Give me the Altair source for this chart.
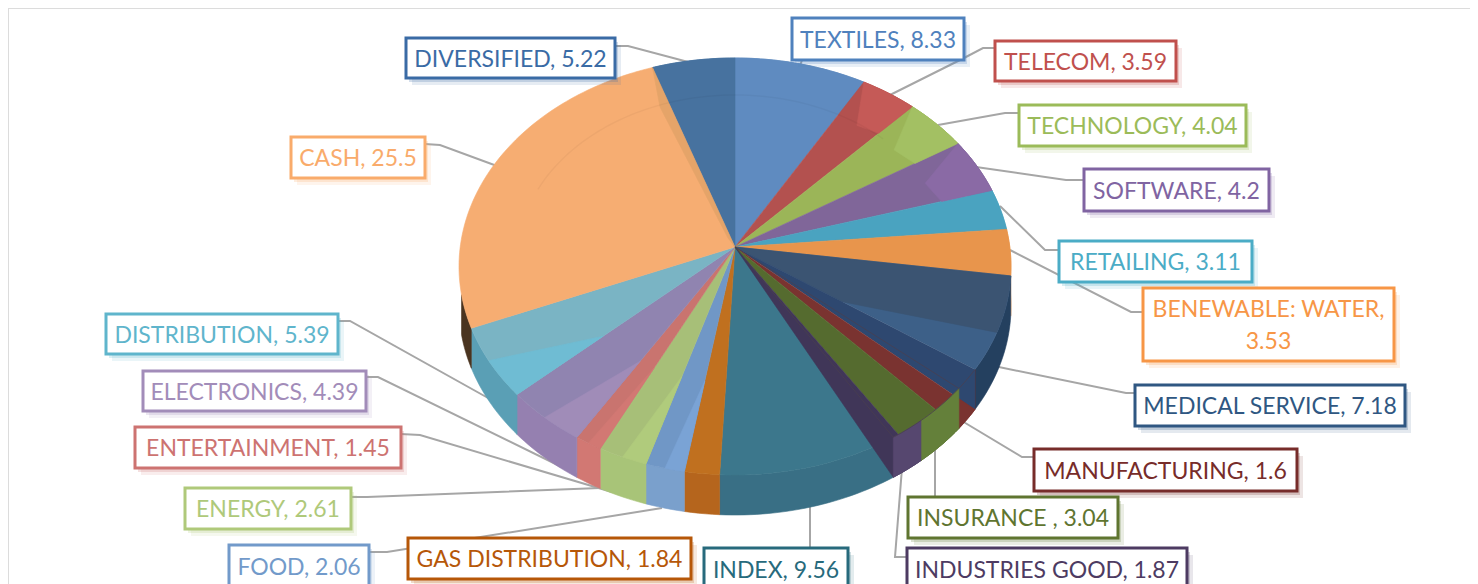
import math
import altair as alt
import pandas as pd

names = ["TEXTILES", "TELECOM", "TECHNOLOGY", "SOFTWARE", "RETAILING", "BENEWABLE: WATER",
         "MEDICAL SERVICE", "MANUFACTURING", "INSURANCE ", "INDUSTRIES GOOD", "INDEX",
         "GAS DISTRIBUTION", "FOOD", "ENERGY", "ENTERTAINMENT", "ELECTRONICS",
         "DISTRIBUTION", "CASH", "DIVERSIFIED"]
values = [8.33, 3.59, 4.04, 4.2, 3.11, 3.53, 7.18, 1.6, 3.04, 1.87, 9.56, 1.84, 2.06, 2.61,
          1.45, 4.39, 5.39, 25.5, 5.22]
value_text = ["8.33", "3.59", "4.04", "4.2", "3.11", "3.53", "7.18", "1.6", "3.04", "1.87", "9.56",
              "1.84", "2.06", "2.61", "1.45", "4.39", "5.39", "25.5", "5.22"]
top_colors = ["#5f8bc0", "#b3514f", "#9bb558", "#806699", "#4aa3c0", "#e8954c", "#3d6088", "#7a3330",
              "#556b2f", "#403658", "#3c778c", "#c0701f", "#7097c6", "#a7bf78", "#c9746f", "#9084b0",
              "#7ab4c4", "#f6ad72", "#47729f"]
wall_colors = ["#5f8bc0", "#c55a57", "#a0bf62", "#8a6aa5", "#4aa3c0", "#f0994f", "#24405f", "#7d2f2c",
               "#64803a", "#56476f", "#396f85", "#b5651d", "#7aa0cc", "#a8c478", "#d27873", "#9580b0",
               "#5a9fb5", "#4a3420", "#47729f"]
facet_colors = ["#5f8bc0", "#c55a57", "#a3c063", "#8a6aa5", "#4aa3c0", "#f0994f", "#3b5472", "#7d2f2c",
                "#64803a", "#56476f", "#396f85", "#b5651d", "#7aa3d5", "#b0cb7c", "#d27873", "#a08cb8",
                "#6fbcd3", "#e5a469", "#47729f"]
label_colors = ["#4f81bd", "#c0504d", "#9bbb59", "#8064a2", "#4bacc6", "#f79646", "#2f5782", "#772c2a",
                "#5f7530", "#4d3b62", "#276a7c", "#b65708", "#729aca", "#afc97a", "#cd7371", "#a28cb9",
                "#5fb5cc", "#f9ab6b", "#3a6ba5"]
# label boxes: left, right, top, bottom (in picture pixels)
boxes = [(792, 964, 18, 60), (995, 1176, 41, 81), (1019, 1246, 105, 146), (1084, 1269, 169, 211),
         (1059, 1252, 241, 282), (1143, 1394, 288, 361), (1135, 1405, 385, 426), (1034, 1297, 449, 491),
         (908, 1118, 497, 538), (907, 1187, 548, 590), (704, 848, 548, 590), (408, 691, 538, 579),
         (229, 369, 545, 587), (185, 351, 488, 529), (135, 401, 427, 468), (143, 366, 371, 411),
         (106, 338, 314, 354), (291, 425, 137, 178), (406, 615, 38, 78)]
leaders = [[(802, 60), (800, 66)], [(995, 48), (983, 48), (964, 58), (890, 95)],
           [(1019, 113), (1005, 113), (938, 125)], [(1084, 180), (1066, 180), (976, 167)],
           [(1059, 250), (1045, 250), (1000, 206)], [(1143, 312), (1131, 312), (1010, 250)],
           [(1135, 393), (1126, 393), (994, 366)], [(1034, 457), (1022, 457), (962, 421)],
           [(935, 497), (935, 447)], [(907, 557), (895, 557), (902, 468)], [(810, 548), (810, 505)],
           [], [(369, 552), (387, 552), (662, 508)], [(351, 497), (367, 497), (600, 488)],
           [(401, 434), (420, 435), (612, 492)], [(366, 377), (378, 377), (578, 475)],
           [(338, 321), (350, 321), (497, 403)], [(425, 144), (440, 145), (497, 166)],
           [(615, 46), (628, 46), (692, 63)]]

CX, CY, RX, RY, K, DEPTH = 735, 247, 274.8, 206.7, -0.0935, 40


def proj(theta, s=1.0, dz=0.0):
    u, v = s * math.sin(theta), s * math.cos(theta)
    d = 1 - K * v
    return CX + RX * u / d, CY - RY * v / d + dz


def rows_of(n, pts):
    return [dict(s=n, i=i, x=p[0], y=p[1]) for i, p in enumerate(pts)]


total = sum(values)
top_rows, wall_rows, facet_rows, fan_rows, over_rows, seam_rows = [], [], [], [], [], []
cum = 0.0
for idx, (n, val) in enumerate(zip(names, values)):
    t0 = 2 * math.pi * cum / total
    cum += val
    t1 = 2 * math.pi * cum / total
    steps = max(4, int((t1 - t0) / 0.02))
    arc = [t0 + (t1 - t0) * j / steps for j in range(steps + 1)]
    if 7 <= idx <= 9:
        fan_rows += rows_of(n, [(CX, CY)] + [proj(t, dz=DEPTH) for t in arc])
    else:
        top_rows += rows_of(n, [(CX, CY)] + [proj(t) for t in arc])
    wall_arc = arc[: max(3, len(arc) // 9)] if idx == 17 else arc
    w = [proj(t) for t in wall_arc] + [proj(t, dz=DEPTH) for t in reversed(wall_arc)]
    wall_rows += rows_of(n, w)
    if 8 <= idx <= 9:
        over_rows += rows_of(n, w)
    if 12 <= idx <= 16:
        half = arc[: len(arc) // 2 + 1]
        facet_rows += rows_of(n, [proj(t0, s=0.62)] + [proj(t) for t in half])
    if 1 <= idx <= 3:
        facet_rows += rows_of(n, [proj(t) for t in arc] + [proj(t1, s=0.8), proj((t0 + t1) / 2, s=0.78)])
    if idx == 6:
        part = arc[: int(len(arc) * 0.62)]
        facet_rows += rows_of(n, [(CX, CY)] + [proj(t) for t in part] + [proj(t1, s=0.46)])
        seam_rows += rows_of("m0", [(CX, CY), proj(t1, dz=DEPTH), proj(t1), (CX, CY)])
        t_med = t1
    if idx == 7:
        seam_rows += rows_of("m1", [(CX, CY), proj(t1)])
    if idx == 9:
        seam_rows += rows_of("m2", [(CX, CY), proj(t1)])
        seam_rows += rows_of("m3", [proj(t_med + (t1 - t_med) * j / 12) for j in range(13)])
    if idx == 17:
        facet_rows += rows_of(n, [proj(t1), proj(t1 - 0.05, s=0.78), proj(t1 - 0.2, s=0.05), (CX, CY)])

strip_rows = [r for r in seam_rows if r["s"] == "m0"]
line_rows = [r for r in seam_rows if r["s"] != "m0"]
ring_pts = [proj(-1.2 + 2.0 * j / 60, s=0.79) for j in range(61)]
ring_rows = rows_of("ring", ring_pts)

leader_rows = [r for n, pl in zip(names, leaders) for r in rows_of(n, pl)]
box_rows = []
text_rows = []
for n, v, (l, r, t, b), c in zip(names, value_text, boxes, label_colors):
    box_rows.append(dict(s=n, l=l, r=r, t=t, b=b, l1=l + 6, r1=r + 6, t1=t + 7, b1=b + 7,
                         l2=l + 3, r2=r + 3, t2=t + 4, b2=b + 4, c=c))
    cx = (l + r) / 2
    my = (t + b) / 2 + 1.5
    if n.startswith("BENEWABLE"):
        text_rows.append(dict(s=n, tx=f"{n},", x=cx, y=my - 16, c=c))
        text_rows.append(dict(s=n + "2", tx=v, x=cx, y=my + 16, c=c))
    else:
        text_rows.append(dict(s=n, tx=f"{n}, {v}", x=cx, y=my, c=c))

SX = alt.Scale(domain=[8, 1470], nice=False, zero=False)
SY = alt.Scale(domain=[584, 8], nice=False, zero=False)
X = alt.X("x:Q", scale=SX, axis=None)
Y = alt.Y("y:Q", scale=SY, axis=None)


def poly(rows, colors):
    return alt.Chart(pd.DataFrame(rows)).mark_line(filled=True, interpolate="linear-closed", strokeWidth=0.6).encode(
        x=X, y=Y, order="i:Q", detail="s:N",
        fill=alt.Fill("s:N", scale=alt.Scale(domain=names, range=colors), legend=None, sort=None),
        stroke=alt.Stroke("s:N", scale=alt.Scale(domain=names, range=colors), legend=None, sort=None))


frame = alt.Chart(pd.DataFrame([dict(s="f", i=0, x=1470, y=8), dict(s="f", i=1, x=8, y=8), dict(s="f", i=2, x=8, y=584)])).mark_line(
    color="#dcdcdc", strokeWidth=2).encode(x=X, y=Y, order="i:Q")
lead = alt.Chart(pd.DataFrame(leader_rows)).mark_line(color="#a6a6a6", strokeWidth=2).encode(
    x=X, y=Y, order="i:Q", detail="s:N")
walls = poly(wall_rows, wall_colors)
tops = poly(top_rows, top_colors)
fans = poly(fan_rows, top_colors)
overs = poly(over_rows, wall_colors)
facets = poly(facet_rows, facet_colors)
strip = alt.Chart(pd.DataFrame(strip_rows)).mark_line(
    filled=True, interpolate="linear-closed", fill="#2e4870", strokeWidth=0).encode(x=X, y=Y, order="i:Q")
seams = alt.Chart(pd.DataFrame(line_rows)).mark_line(color="#4a3f4f", strokeWidth=1, opacity=0.75).encode(
    x=X, y=Y, order="i:Q", detail="s:N")
ring = alt.Chart(pd.DataFrame(ring_rows)).mark_line(color="#000000", opacity=0.035, strokeWidth=1.5).encode(
    x=X, y=Y, order="i:Q")

cdf = pd.DataFrame(box_rows)
color_enc = alt.Color("c:N", scale=None)
sh1 = alt.Chart(cdf).mark_rect(opacity=0.13).encode(
    x=alt.X("l1:Q", scale=SX, axis=None), x2="r1:Q", y=alt.Y("t1:Q", scale=SY, axis=None), y2="b1:Q", color=color_enc)
sh2 = alt.Chart(cdf).mark_rect(opacity=0.22).encode(
    x=alt.X("l2:Q", scale=SX, axis=None), x2="r2:Q", y=alt.Y("t2:Q", scale=SY, axis=None), y2="b2:Q", color=color_enc)
box = alt.Chart(cdf).mark_rect(fill="#ffffff", strokeWidth=3).encode(
    x=alt.X("l:Q", scale=SX, axis=None), x2="r:Q", y=alt.Y("t:Q", scale=SY, axis=None), y2="b:Q", stroke=alt.Stroke("c:N", scale=None))
txt = alt.Chart(pd.DataFrame(text_rows)).mark_text(font="Lato", fontSize=23, align="center", baseline="middle").encode(
    x=X, y=Y, text="tx:N", color=color_enc)

chart = alt.layer(frame, lead, walls, tops, facets, strip, fans, overs, seams, ring, sh1, sh2, box, txt).resolve_scale(
    fill="independent", stroke="independent", color="independent"
).properties(width=1462, height=576, padding=0, autosize=alt.AutoSizeParams(type="none")).configure_view(stroke=None)
chart.save("out.html", embed_options={"renderer": "svg", "actions": False})
